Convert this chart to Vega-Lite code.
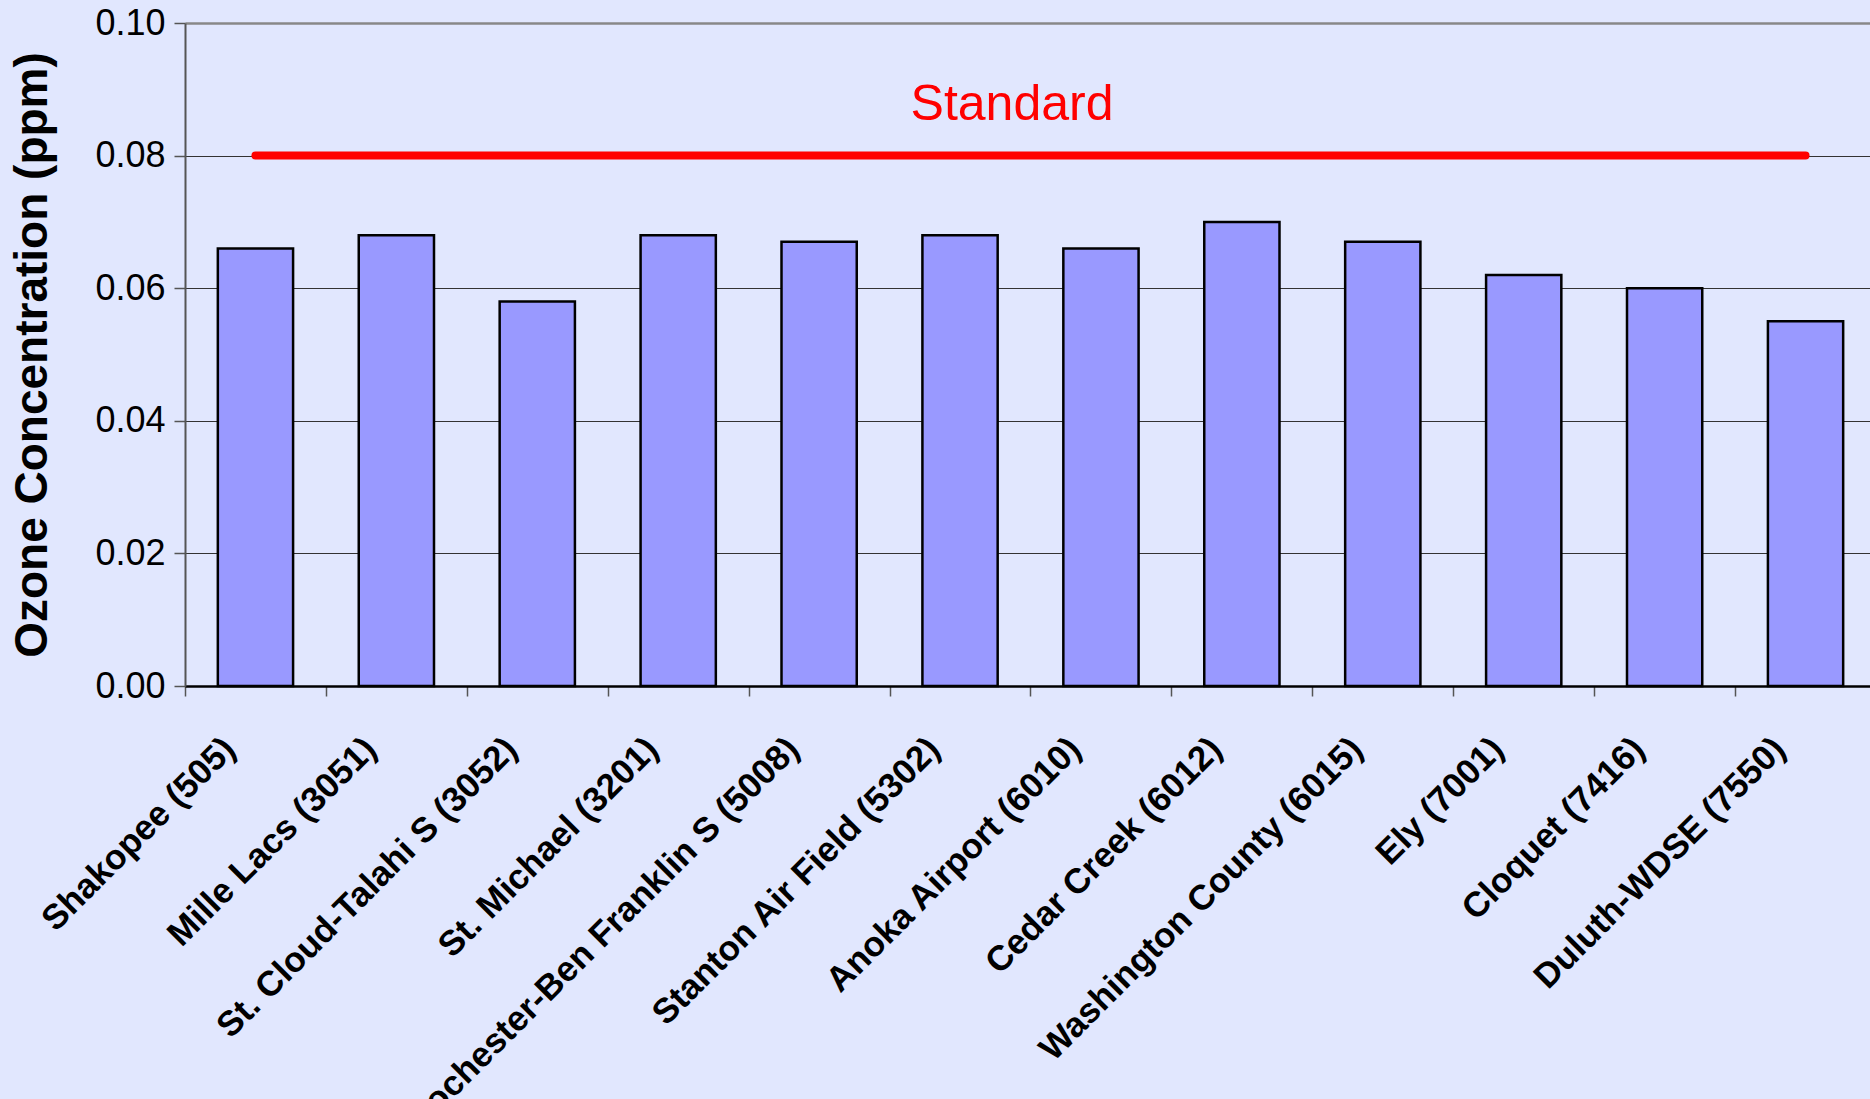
{
  "$schema": "https://vega.github.io/schema/vega-lite/v6.json",
  "autosize": {"type": "none"},
  "width": 1685,
  "height": 663,
  "padding": {"left": 185, "top": 23, "right": 0, "bottom": 413},
  "background": "#E1E7FE",
  "config": {
    "view": {"stroke": null},
    "font": "Liberation Sans"
  },
  "data": {
    "values": [
      {"site": "Shakopee (505)", "ozone": 0.066},
      {"site": "Mille Lacs (3051)", "ozone": 0.068},
      {"site": "St. Cloud-Talahi S (3052)", "ozone": 0.058},
      {"site": "St. Michael (3201)", "ozone": 0.068},
      {"site": "Rochester-Ben Franklin S (5008)", "ozone": 0.067},
      {"site": "Stanton Air Field (5302)", "ozone": 0.068},
      {"site": "Anoka Airport (6010)", "ozone": 0.066},
      {"site": "Cedar Creek (6012)", "ozone": 0.070},
      {"site": "Washington County (6015)", "ozone": 0.067},
      {"site": "Ely (7001)", "ozone": 0.062},
      {"site": "Cloquet (7416)", "ozone": 0.060},
      {"site": "Duluth-WDSE (7550)", "ozone": 0.055}
    ]
  },
  "encoding": {
    "x": {
      "field": "site",
      "type": "nominal",
      "sort": null,
      "scale": {"paddingInner": 0.466, "paddingOuter": 0.233, "range": [0, 1691]},
      "axis": {
        "title": null,
        "labelAngle": -45,
        "labelAlign": "right",
        "labelBaseline": "middle",
        "labelFont": "Liberation Sans",
        "labelFontWeight": "bold",
        "labelFontSize": 35,
        "labelColor": "#000000",
        "tickOffset": -70.46,
        "labelOffset": 44,
        "labelPadding": 47,
        "labelOverlap": false,
        "labelLimit": 1000,
        "tickSize": 10,
        "tickColor": "#555555",
        "tickWidth": 1.5,
        "domainColor": "#000000",
        "domainWidth": 2.5,
        "grid": false
      }
    }
  },
  "layer": [
    {
      "mark": {"type": "bar", "fill": "#9999FF", "stroke": "#000000", "strokeWidth": 2.5},
      "encoding": {
        "y": {
          "field": "ozone",
          "type": "quantitative",
          "scale": {"domain": [0, 0.1], "nice": false},
          "axis": {
            "title": "Ozone Concentration (ppm)",
            "titleFont": "Liberation Sans",
            "titleFontSize": 46,
            "titleFontWeight": "bold",
            "titleColor": "#000000",
            "titlePadding": 38,
            "values": [0, 0.02, 0.04, 0.06, 0.08, 0.1],
            "format": ".2f",
            "labelFont": "Liberation Sans",
            "labelFontSize": 36,
            "labelColor": "#000000",
            "labelPadding": 9,
            "tickSize": 11,
            "tickColor": "#555555",
            "tickWidth": 1.5,
            "domainColor": "#555555",
            "domainWidth": 2,
            "grid": true,
            "gridColor": {"condition": {"test": "datum.value >= 0.099", "value": "#888888"}, "value": "#333333"},
            "gridWidth": {"condition": {"test": "datum.value >= 0.099", "value": 2.5}, "value": 1.2}
          }
        }
      }
    },
    {
      "mark": {"type": "line", "color": "#FF0000", "strokeWidth": 8, "strokeCap": "round"},
      "encoding": {
        "y": {"datum": 0.08}
      }
    },
    {
      "data": {"values": [{"label": "Standard"}]},
      "mark": {"type": "text", "color": "#FF0000", "fontSize": 50, "font": "Liberation Sans", "baseline": "alphabetic", "align": "center", "dx": 52},
      "encoding": {
        "x": {"datum": "Stanton Air Field (5302)"},
        "y": {"datum": 0.0853},
        "text": {"field": "label"}
      }
    }
  ]
}
